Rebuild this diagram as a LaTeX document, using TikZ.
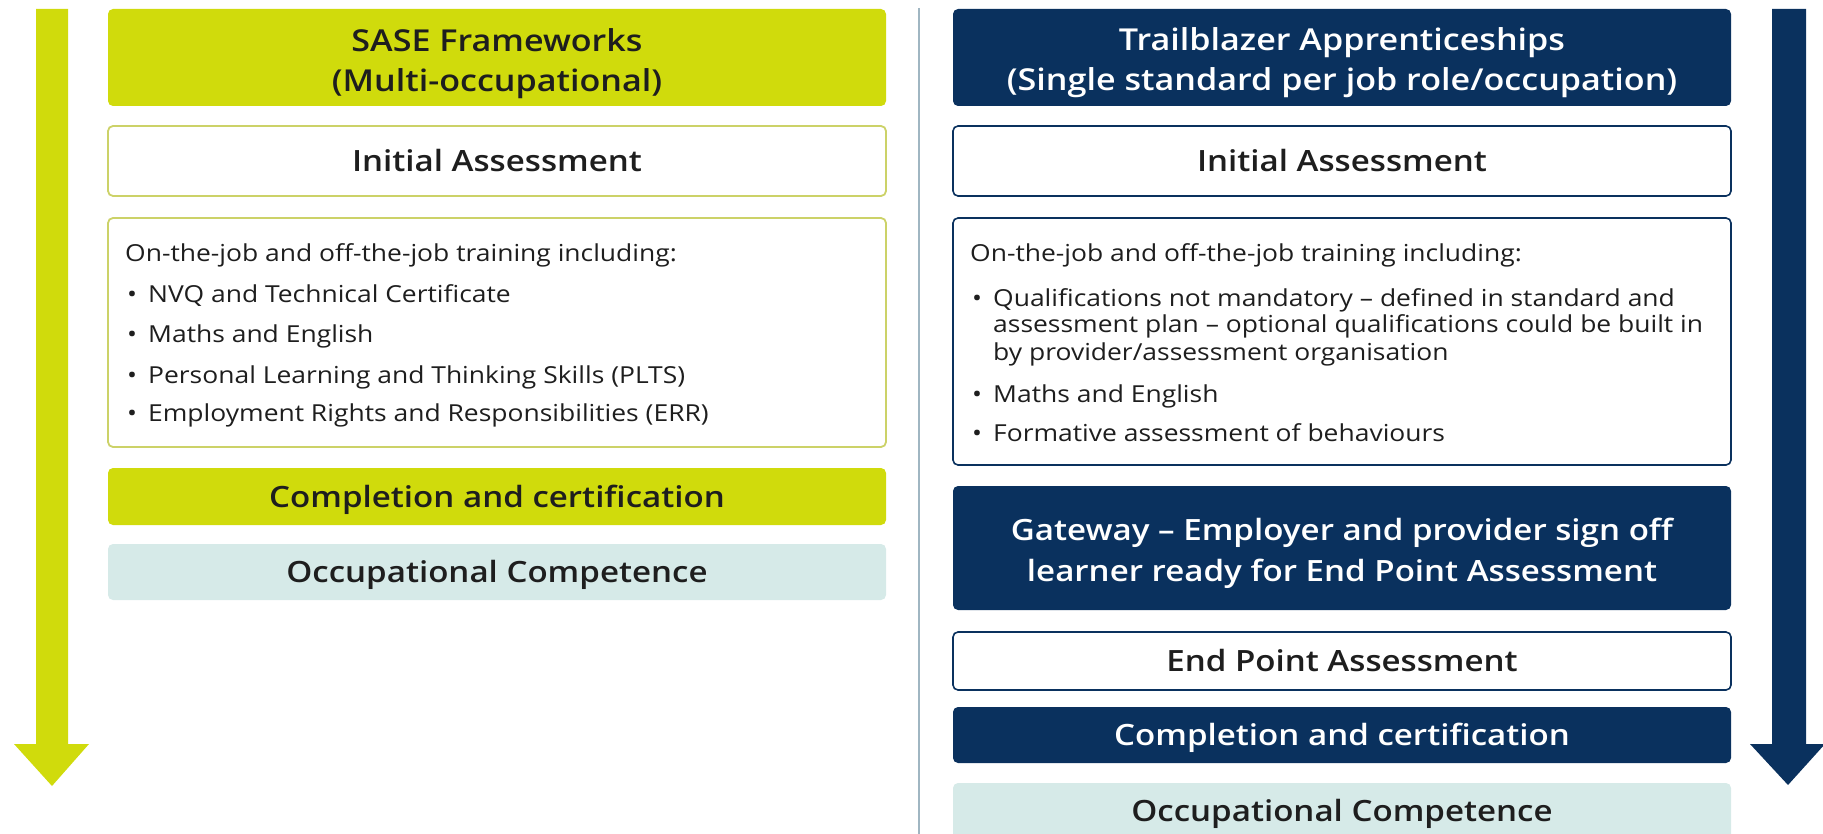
\documentclass[tikz,border=0pt]{standalone}
\usepackage{fontspec}
\setmainfont{Open Sans}[FakeStretch=1.13]

% semibold for the box titles when available, bold otherwise
\IfFontExistsTF{Open Sans Semibold}
  {\newfontfamily\headfam{Open Sans Semibold}[FakeStretch=1.13]
   \def\bigsz{30.2}\def\midsz{29.3}}
  {\newcommand\headfam{\bfseries}
   \def\bigsz{29}\def\midsz{28.2}}

\definecolor{lime}{RGB}{208,219,12}
\definecolor{limeline}{RGB}{204,210,104}
\definecolor{navy}{RGB}{10,49,94}
\definecolor{mint}{RGB}{214,234,232}
\definecolor{rulegray}{RGB}{160,182,194}
\definecolor{ink}{RGB}{30,30,30}

\newcommand\titlefont{\headfam\fontsize{\bigsz}{40}\selectfont}
\newcommand\headfont{\headfam\fontsize{\midsz}{41}\selectfont}
\newcommand\bodyfont{\fontsize{23.4}{27}\selectfont}
\newcommand\bul{\makebox[21pt][l]{•}}

\tikzset{
  card/.style={rounded corners=5pt, inner sep=0pt, minimum width=778pt,
               align=center, font=\headfont, text height=21pt, text depth=0pt},
  limecard/.style={card, fill=lime, text=ink},
  limeframe/.style={card, draw=limeline, line width=1.8pt, fill=white, text=ink},
  navycard/.style={card, fill=navy, text=white},
  navyframe/.style={card, draw=navy, line width=1.6pt, fill=white, text=ink},
  mintcard/.style={card, fill=mint, text=ink},
  twoline/.style={anchor=base, inner sep=0pt, align=center},
  body/.style={anchor=base west, inner sep=0pt, font=\bodyfont, text=ink},
}

\begin{document}
\begin{tikzpicture}[x=1pt,y=-1pt]
\useasboundingbox (0,0) rectangle (1823,834);
\clip (0,0) rectangle (1823,834);

% progress arrows at both sides
\fill[lime] (36,9) -- (68,9) -- (68,744) -- (89,744) -- (52,786)
            -- (14,744) -- (36,744) -- cycle;
\fill[navy] (1772,9) -- (1806,9) -- (1806,744) -- (1825,744) -- (1788,785)
            -- (1750,744) -- (1772,744) -- cycle;

% divider between the two routes
\draw[rulegray, line width=2pt] (919,8) -- (919,840);

% SASE frameworks column
\node[limecard, minimum height=97pt] (sase) at (497,57.5) {};
\node[twoline, font=\titlefont, text=ink] (saseT) at (497,92)
  {SASE Frameworks\\(Multi-occupational)};
\node[limeframe, minimum height=70pt] (initL) at (497,161) {Initial Assessment};
\node[limeframe, minimum height=229pt] (trainL) at (497,332.5) {};
\node[limecard, minimum height=57pt] (compL) at (497,496.5)
  {Completion and certification};
\node[mintcard, minimum height=56pt] (occL) at (497,572) {Occupational Competence};

\node[body] (tl0) at (125,262) {On-the-job and off-the-job training including:};
\node[body] (tl1) at (127,302) {\bul NVQ and Technical Certificate};
\node[body] (tl2) at (127,342) {\bul Maths and English};
\node[body] (tl3) at (127,383) {\bul Personal Learning and Thinking Skills (PLTS)};
\node[body] (tl4) at (127,421) {\bul Employment Rights and Responsibilities (ERR)};

% Trailblazer apprenticeships column
\node[navycard, minimum height=97pt] (trail) at (1342,57.5) {};
\node[twoline, font=\titlefont, text=white] (trailT) at (1342,91)
  {Trailblazer Apprenticeships\\(Single standard per job role/occupation)};
\node[navyframe, minimum height=70pt] (initR) at (1342,161) {Initial Assessment};
\node[navyframe, minimum height=247pt] (trainR) at (1342,341.5) {};
\node[navycard, minimum height=124pt] (gate) at (1342,548) {};
\node[twoline, font=\headfont, text=white] (gateT) at (1342,581)
  {Gateway – Employer and provider sign off\\learner ready for End Point Assessment};
\node[navyframe, minimum height=58pt] (epa) at (1342,661) {End Point Assessment};
\node[navycard, minimum height=56pt] (compR) at (1342,735)
  {Completion and certification};
\node[mintcard, minimum height=56pt] (occR) at (1342,811) {Occupational Competence};

\node[body] (tr0) at (970,262) {On-the-job and off-the-job training including:};
\node[body] (tr1) at (972,306) {\bul Qualifications not mandatory – defined in standard and};
\node[body] (tr1b) at (993,333) {assessment plan – optional qualifications could be built in};
\node[body] (tr1c) at (993,360) {by provider/assessment organisation};
\node[body] (tr2) at (972,402) {\bul Maths and English};
\node[body] (tr3) at (972,441) {\bul Formative assessment of behaviours};
\end{tikzpicture}
\end{document}
